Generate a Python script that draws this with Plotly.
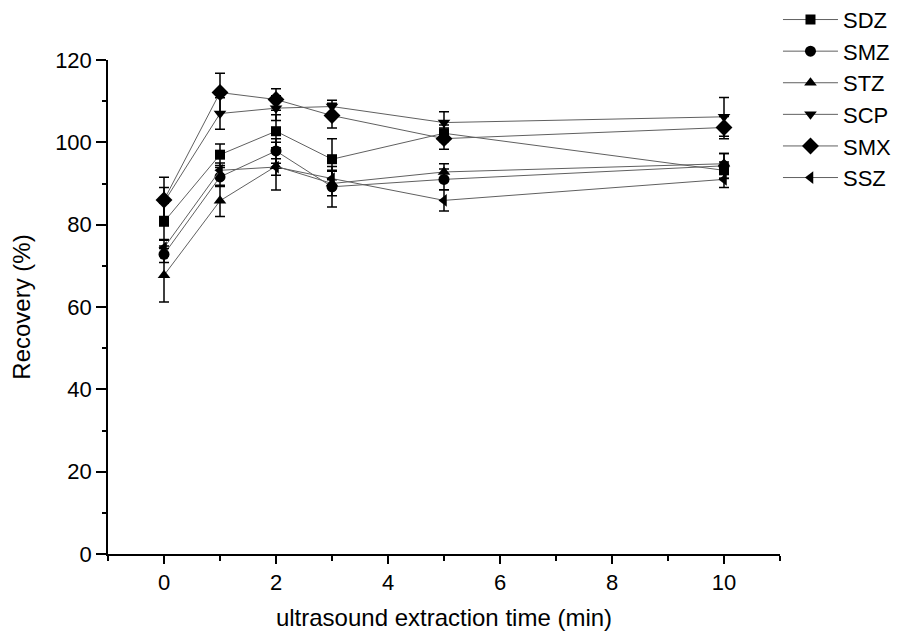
import plotly.graph_objects as go

time_min = [0, 1, 2, 3, 5, 10]
series_names = ["SDZ", "SMZ", "STZ", "SCP", "SMX", "SSZ"]
sdz = [80.7, 97.0, 102.7, 95.9, 102.2, 93.2]
smz = [72.8, 91.6, 97.9, 89.2, 91.0, 94.3]
stz = [67.7, 85.8, 94.2, 90.0, 92.8, 94.8]
scp = [85.5, 107.0, 108.3, 108.7, 104.8, 106.2]
smx = [86.0, 112.1, 110.4, 106.5, 100.9, 103.6]
ssz = [74.4, 93.2, 94.0, 91.2, 85.9, 91.0]
sdz_err = [4.5, 2.6, 4.0, 5.0, 2.0, 2.0]
smz_err = [2.0, 2.3, 3.0, 4.9, 2.5, 3.0]
stz_err = [6.5, 3.8, 5.8, 3.0, 2.0, 2.5]
scp_err = [3.5, 3.8, 3.0, 1.5, 2.6, 4.7]
smx_err = [5.5, 4.7, 2.6, 3.0, 2.6, 2.7]
ssz_err = [2.0, 1.8, 2.0, 2.0, 2.6, 2.0]
x_ticks = [0, 2, 4, 6, 8, 10]
y_ticks = [0, 20, 40, 60, 80, 100, 120]

values = [sdz, smz, stz, scp, smx, ssz]
errors = [sdz_err, smz_err, stz_err, scp_err, smx_err, ssz_err]
symbols = ["square", "circle", "triangle-up", "triangle-down", "diamond", "triangle-left"]
sizes = [10, 11, 11, 11, 13, 11]

fig = go.Figure()
for name, y, e, sym, sz in zip(series_names, values, errors, symbols, sizes):
    fig.add_trace(go.Scatter(
        x=time_min, y=y, name=name, mode="lines+markers",
        line=dict(color="#606060", width=1),
        marker=dict(symbol=sym, size=sz, color="black"),
        error_y=dict(type="data", array=e, visible=True, color="black", thickness=1.5, width=5),
    ))

FONT = "Liberation Sans, Arial, sans-serif"
tick_font = dict(family=FONT, size=22, color="black")
title_font = dict(family=FONT, size=24, color="black")
fig.update_layout(
    width=901, height=641,
    margin=dict(l=100, r=129, t=52, b=95, autoexpand=False),
    paper_bgcolor="white", plot_bgcolor="white",
    font=tick_font,
    showlegend=True,
    legend=dict(x=0.997, y=1.124, xanchor="left", yanchor="top",
                font=dict(family=FONT, size=22, color="black"),
                itemwidth=55, tracegroupgap=0, bgcolor="rgba(0,0,0,0)"),
    xaxis=dict(range=[-1, 11], tickvals=x_ticks, showgrid=False, zeroline=False,
               showline=True, linecolor="black", linewidth=1.5, ticks="outside", ticklen=8,
               tickwidth=1.5, tickcolor="black", automargin=False,
               minor=dict(ticks="outside", ticklen=5, tickvals=[-1, 1, 3, 5, 7, 9, 11], tickcolor="black", tickwidth=1.5),
               title=dict(text="ultrasound extraction time (min)", font=title_font, standoff=15),
               tickfont=tick_font),
    yaxis=dict(range=[0, 120], tickvals=y_ticks, showgrid=False, zeroline=False,
               showline=True, linecolor="black", linewidth=1.5, ticks="outside", ticklen=10,
               tickwidth=1.5, tickcolor="black", automargin=False,
               minor=dict(ticks="outside", ticklen=4, tickvals=[10, 30, 50, 70, 90, 110], tickcolor="black", tickwidth=1.5),
               title=dict(text="Recovery (%)", font=title_font, standoff=22),
               tickfont=tick_font),
)
fig.write_html("out.html")
